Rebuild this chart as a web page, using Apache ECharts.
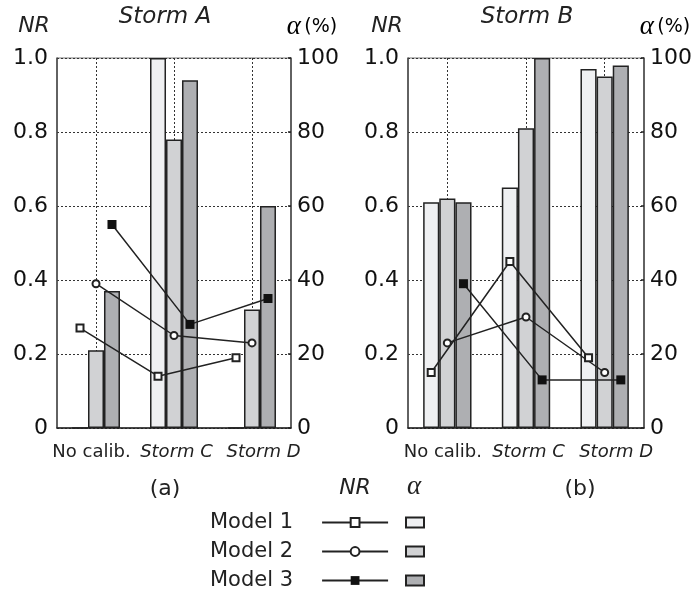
<!DOCTYPE html>
<html>
<head>
<meta charset="utf-8">
<script src="https://cdn.jsdelivr.net/npm/echarts@6/dist/echarts.min.js"></script>
<style>
  html, body { margin: 0; padding: 0; background: #fff; }
  #chart { width: 696px; height: 597px; }
</style>
</head>
<body>
<div id="chart"></div>
<script>
// Calibration cases on the x axis
const categories = ['No calib.', 'Storm C', 'Storm D'];
const modelNames = ['Model 1', 'Model 2', 'Model 3'];

// Panel (a): Storm A — alpha (%) bars
const alphaA1 = [0, 100, 0];
const alphaA2 = [21, 78, 32];
const alphaA3 = [37, 94, 60];
// Panel (a): Storm A — NR lines
const nrA1 = [0.27, 0.14, 0.19];
const nrA2 = [0.39, 0.25, 0.23];
const nrA3 = [0.55, 0.28, 0.35];

// Panel (b): Storm B — alpha (%) bars
const alphaB1 = [61, 65, 97];
const alphaB2 = [62, 81, 95];
const alphaB3 = [61, 100, 98];
// Panel (b): Storm B — NR lines
const nrB1 = [0.15, 0.45, 0.19];
const nrB2 = [0.23, 0.30, 0.15];
const nrB3 = [0.39, 0.13, 0.13];

// Axis ranges
const nrTicks = [0, 0.2, 0.4, 0.6, 0.8, 1.0];
const alphaTicks = [0, 20, 40, 60, 80, 100];
const panelTitles = ['Storm A', 'Storm B'];
const panelTags = ['(a)', '(b)'];

const INK = '#222';
const AXIS = '#444';
const FONT = '"DejaVu Sans", Verdana, sans-serif';
const THIN = '"DejaVu Sans ExtraLight", "DejaVu Sans", sans-serif';
const GREEK = '"Liberation Serif", "DejaVu Serif", serif';
const barColors = ['#eff0f2', '#d1d2d4', '#aeafb2'];
const lineSymbols = ['emptyRect', 'emptyCircle', 'rect'];
const lineSymbolSizes = [7, 7, 9];
// each bar takes this share of a category band; NR markers sit on bar centres
const BAR_FRAC = 0.205;

const panels = [
  { alpha: [alphaA1, alphaA2, alphaA3], nr: [nrA1, nrA2, nrA3],
    grid: { left: 57, top: 58, width: 234, height: 370 } },
  { alpha: [alphaB1, alphaB2, alphaB3], nr: [nrB1, nrB2, nrB3],
    grid: { left: 408, top: 58, width: 236, height: 370 } }
];

const grids = [], xAxes = [], yAxes = [], series = [];

panels.forEach((p, pi) => {
  grids.push(Object.assign({ show: true, borderColor: '#777', borderWidth: 1 }, p.grid));

  // category axis (bars, labels, vertical dotted guides)
  xAxes.push({
    type: 'category', gridIndex: pi, data: categories, boundaryGap: true,
    axisLine: { lineStyle: { color: INK, width: 1.5 } },
    axisTick: { show: true, inside: true, alignWithLabel: true, length: 5, lineStyle: { color: INK } },
    splitLine: { show: true, alignWithLabel: true, lineStyle: { color: '#333', type: [2, 2], width: 1 } },
    axisLabel: {
      margin: 15, interval: 0,
      formatter: (v) => v === 'No calib.' ? '{n|' + v + '}' : (v === 'Storm C' ? '{c|' + v + '}' : '{d|' + v + '}'),
      rich: {
        n: { fontFamily: FONT, fontSize: 18, color: INK, padding: [0, 9, 0, 0] },
        c: { fontFamily: FONT, fontSize: 18, fontStyle: 'italic', color: INK, padding: [0, 0, 0, 5] },
        d: { fontFamily: FONT, fontSize: 18, fontStyle: 'italic', color: INK, padding: [0, 0, 0, 23] }
      }
    }
  });
  // numeric x axis used to place NR markers at bar centres
  xAxes.push({ type: 'value', gridIndex: pi, min: 0, max: categories.length, show: false });

  yAxes.push({
    type: 'value', gridIndex: pi, position: 'left',
    min: nrTicks[0], max: nrTicks[nrTicks.length - 1], interval: nrTicks[1] - nrTicks[0],
    axisLine: { show: true, lineStyle: { color: AXIS, width: 1.5 } },
    axisTick: { show: false },
    splitLine: { show: true, lineStyle: { color: '#333', type: [2, 2], width: 1 } },
    axisLabel: { fontFamily: THIN, fontSize: 22, color: '#111', margin: 9,
      formatter: (v) => v === 0 ? '0' : v.toFixed(1) }
  });
  yAxes.push({
    type: 'value', gridIndex: pi, position: 'right',
    min: alphaTicks[0], max: alphaTicks[alphaTicks.length - 1], interval: alphaTicks[1] - alphaTicks[0],
    axisLine: { show: true, lineStyle: { color: AXIS, width: 1.5 } },
    axisTick: { show: true, inside: true, length: 3, lineStyle: { color: INK, width: 1.5 } },
    splitLine: { show: false },
    axisLabel: { fontFamily: THIN, fontSize: 22, color: '#111', margin: 6 }
  });

  p.alpha.forEach((vals, m) => {
    series.push({
      type: 'bar', name: modelNames[m] + ' α',
      xAxisIndex: pi * 2, yAxisIndex: pi * 2 + 1,
      data: vals, barWidth: (BAR_FRAC * 100) + '%', barGap: '0%',
      itemStyle: { color: barColors[m], borderColor: INK, borderWidth: 1.5 },
      z: 2
    });
  });
  p.nr.forEach((vals, m) => {
    series.push({
      type: 'line', name: modelNames[m],
      xAxisIndex: pi * 2 + 1, yAxisIndex: pi * 2,
      data: vals.map((v, i) => [i + 0.5 + (m - 1) * BAR_FRAC, v]),
      symbol: lineSymbols[m], symbolSize: lineSymbolSizes[m], showSymbol: true,
      lineStyle: { color: INK, width: 1.5 },
      itemStyle: { color: m === 2 ? '#111' : INK, borderWidth: 1.5 },
      z: 5
    });
  });
});

const txt = (x, y, text, size, italic, family) => ({
  type: 'text', x: x, y: y, silent: true,
  style: { text: text, fill: INK, font: (italic ? 'italic ' : '') + size + 'px ' + (family || FONT),
    align: 'center', verticalAlign: 'middle' }
});

const alphaLabel = (x, y) => ({
  type: 'text', x: x, y: y, silent: true,
  style: { text: '{a|α} {p|(%)}', align: 'center', verticalAlign: 'middle',
    rich: { a: { fontFamily: GREEK, fontStyle: 'italic', fontSize: 27, color: INK },
            p: { fontFamily: THIN, fontSize: 19, color: INK } } }
});

const graphics = [
  txt(165, 17, panelTitles[0], 23, true),
  txt(527, 17, panelTitles[1], 23, true),
  txt(34, 26, 'NR', 22, true),
  txt(387, 26, 'NR', 22, true),
  alphaLabel(312, 27),
  alphaLabel(665, 27),
  txt(165, 489, panelTags[0], 22, false),
  txt(580, 489, panelTags[1], 22, false),
  txt(355, 488, 'NR', 22, true),
  txt(414, 487, 'α', 27, true, GREEK)
];

const chart = echarts.init(document.getElementById('chart'), null, { renderer: 'canvas' });
chart.setOption({
  animation: false,
  backgroundColor: '#fff',
  grid: grids,
  xAxis: xAxes,
  yAxis: yAxes,
  series: series,
  legend: [
    {
      data: modelNames, orient: 'vertical', left: 210, top: 512, height: 86, padding: 0,
      align: 'right', itemWidth: 66, itemHeight: 11, itemGap: 8, selectedMode: false,
      textStyle: { fontFamily: FONT, fontSize: 21, color: INK, lineHeight: 21, padding: [0, 24, 0, 0] }
    },
    {
      data: modelNames.map(n => n + ' α'), orient: 'vertical', left: 405, top: 512, height: 86, padding: 0,
      icon: 'rect', itemWidth: 18, itemHeight: 10, itemGap: 8, selectedMode: false,
      formatter: () => ' ',
      textStyle: { fontFamily: FONT, fontSize: 21, lineHeight: 21 }
    }
  ],
  graphic: graphics
});
</script>
</body>
</html>
